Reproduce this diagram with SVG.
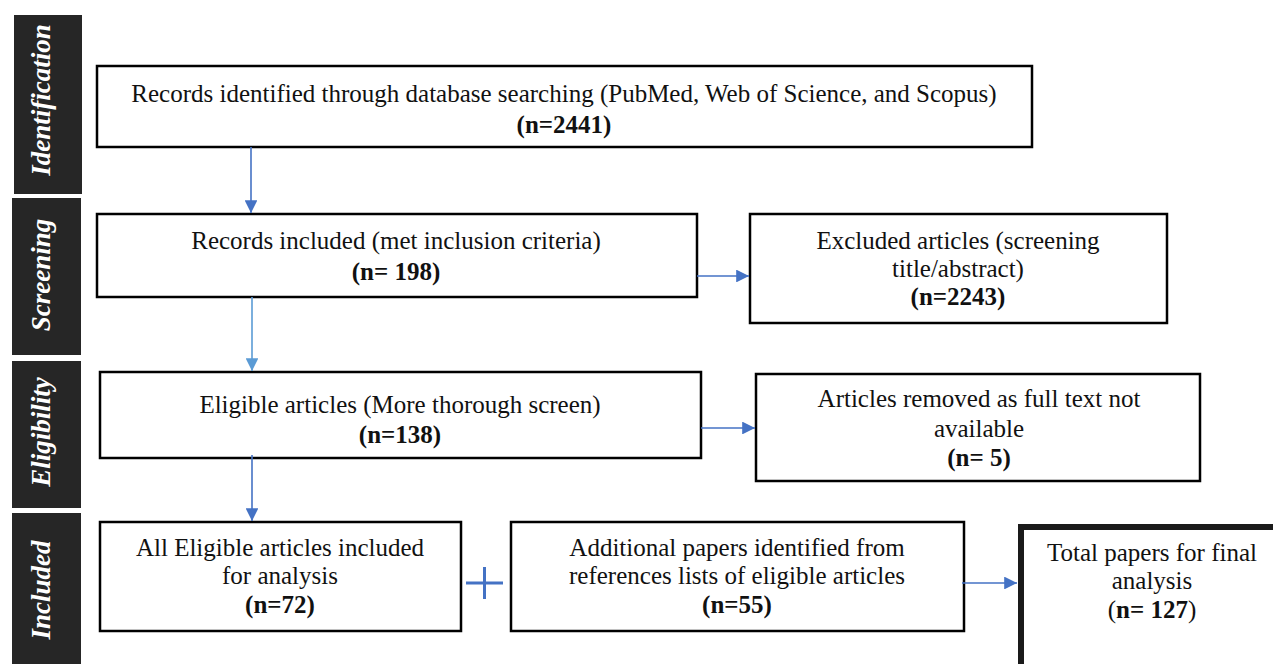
<svg xmlns="http://www.w3.org/2000/svg" width="1273" height="664" viewBox="0 0 1273 664">
<defs>
<marker id="ah" viewBox="0 0 10 10" refX="10" refY="5" markerWidth="8.5" markerHeight="8" markerUnits="strokeWidth" orient="auto">
<path d="M0,0 L10,5 L0,10 z" fill="#4472C4"/>
</marker>
<marker id="ah2" viewBox="0 0 10 10" refX="10" refY="5" markerWidth="8.5" markerHeight="8" markerUnits="strokeWidth" orient="auto">
<path d="M0,0 L10,5 L0,10 z" fill="#5B9BD5"/>
</marker>
<style>
.bar{fill:#262626}
.lbl{font-family:"Liberation Serif","Times New Roman",serif;font-weight:bold;font-style:italic;font-size:27px;fill:#fff;text-anchor:middle}
.box{fill:#fff;stroke:#000;stroke-width:2.5}
.t{font-family:"Liberation Serif","Times New Roman",serif;font-size:25px;fill:#111;text-anchor:middle}
.b{font-weight:bold}
.c{stroke:#4472C4;stroke-width:1.6;fill:none}
</style>
</defs>
<rect width="1273" height="664" fill="#fff"/>
<g id="stages">
<rect class="bar" x="14" y="15" width="68" height="179"/>
<text class="lbl" transform="translate(50,100) rotate(-90)">Identification</text>
<rect class="bar" x="12" y="198" width="69" height="157"/>
<text class="lbl" transform="translate(50,275) rotate(-90)">Screening</text>
<rect class="bar" x="12" y="361" width="69" height="147"/>
<text class="lbl" transform="translate(50,432) rotate(-90)">Eligibility</text>
<rect class="bar" x="12" y="513" width="69" height="151"/>
<text class="lbl" transform="translate(50,590) rotate(-90)">Included</text>
</g>
<g id="n1">
<rect class="box" x="97" y="66" width="935" height="81"/>
<text class="t" x="564" y="102">Records identified through database searching (PubMed, Web of Science, and Scopus)</text>
<text class="t b" x="564" y="133">(n=2441)</text>
</g>
<g id="n2">
<rect class="box" x="97" y="214" width="600" height="83"/>
<text class="t" x="396" y="249">Records included (met inclusion criteria)</text>
<text class="t b" x="396" y="280">(n= 198)</text>
</g>
<g id="n3">
<rect class="box" x="750" y="214" width="417" height="109"/>
<text class="t" x="958" y="249">Excluded articles (screening</text>
<text class="t" x="958" y="277">title/abstract)</text>
<text class="t b" x="958" y="305">(n=2243)</text>
</g>
<g id="n4">
<rect class="box" x="100" y="372" width="601" height="86"/>
<text class="t" x="400" y="413">Eligible articles (More thorough screen)</text>
<text class="t b" x="400" y="443">(n=138)</text>
</g>
<g id="n5">
<rect class="box" x="756" y="374" width="444" height="107"/>
<text class="t" x="979" y="407">Articles removed as full text not</text>
<text class="t" x="979" y="437">available</text>
<text class="t b" x="979" y="466">(n= 5)</text>
</g>
<g id="n6">
<rect class="box" x="100" y="522" width="361" height="109"/>
<text class="t" x="280" y="556">All Eligible articles included</text>
<text class="t" x="280" y="584">for analysis</text>
<text class="t b" x="280" y="613">(n=72)</text>
</g>
<g id="n7">
<rect class="box" x="511" y="522" width="453" height="109"/>
<text class="t" x="737" y="556">Additional papers identified from</text>
<text class="t" x="737" y="584">references lists of eligible articles</text>
<text class="t b" x="737" y="613">(n=55)</text>
</g>
<g id="n8">
<rect x="1021" y="527" width="270" height="140" fill="#fff" stroke="#1a1a1a" stroke-width="6"/>
<text class="t" x="1152" y="561">Total papers for final</text>
<text class="t" x="1152" y="589">analysis</text>
<text class="t" x="1152" y="618">(<tspan class="b">n= 127</tspan>)</text>
</g>
<g id="connectors">
<line class="c" x1="251" y1="147" x2="251" y2="213" marker-end="url(#ah)"/>
<line class="c" x1="697" y1="276" x2="749" y2="276" marker-end="url(#ah)"/>
<line x1="252" y1="297" x2="252" y2="371" stroke="#5B9BD5" stroke-width="1.6" marker-end="url(#ah2)"/>
<line class="c" x1="701" y1="428" x2="755" y2="428" marker-end="url(#ah)"/>
<line class="c" x1="252" y1="455" x2="252" y2="521" marker-end="url(#ah)"/>
<line class="c" x1="962" y1="583" x2="1017" y2="583" marker-end="url(#ah)"/>
<path d="M466,583 H503 M484.5,567 V599" stroke="#4472C4" stroke-width="3" fill="none"/>
</g>
</svg>
